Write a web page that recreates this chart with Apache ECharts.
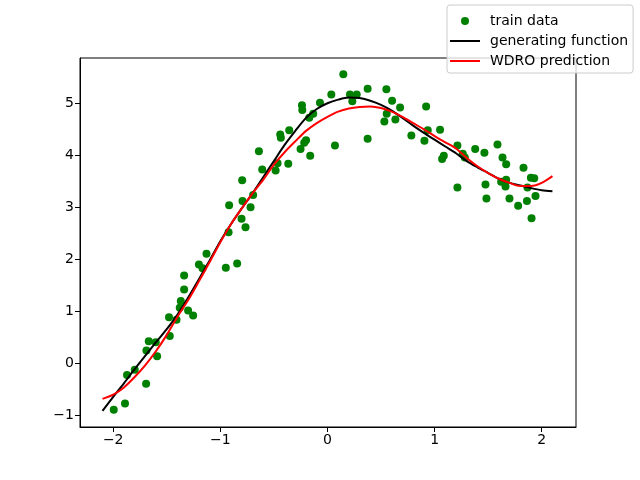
<!DOCTYPE html>
<html>
<head>
<meta charset="utf-8">
<script src="https://cdn.jsdelivr.net/npm/echarts@6/dist/echarts.min.js"></script>
<style>
  html, body { margin: 0; padding: 0; background: #fff; }
  #chart { width: 640px; height: 480px; }
</style>
</head>
<body>
<div id="chart"></div>
<script>
// train data points
const trainX = [-1.995, -1.89, -1.693, -1.871, -1.799, -1.69, -1.668, -1.603, -1.59, -1.472,
  -1.479, -1.409, -1.369, -1.379, -1.301, -1.254, -1.338, -1.338, -1.2, -1.166,
  -1.129, -0.949, -0.843, -0.923, -0.765, -0.802, -0.918, -0.793, -0.718, -0.694,
  -0.796, -0.609, -0.64, -0.484, -0.466, -0.366, -0.441, -0.435, -0.357, -0.251,
  -0.217, -0.2, -0.161, -0.238, -0.235, -0.17, -0.133, -0.07, 0.036, 0.21,
  0.273, 0.232, 0.375, 0.07, 0.375, 0.148, 0.55, 0.603, 0.678, 0.553,
  0.531, 0.634, 0.921, 0.783, 0.936, 0.905, 1.051, 1.213, 1.263, 1.282,
  1.086, 1.07, 1.379, 1.213, 1.465, 1.587, 1.634, 1.668, 1.83, 1.475,
  1.484, 1.621, 1.668, 1.662, 1.699, 1.78, 1.862, 1.867, 1.899, 1.93,
  1.942, 1.905];
const trainY = [-0.89, -0.77, -0.39, -0.22, -0.12, 0.25, 0.43, 0.41, 0.14, 0.53,
  0.89, 0.84, 1.2, 1.07, 1.02, 0.92, 1.42, 1.69, 1.9, 1.83,
  2.11, 1.84, 1.92, 2.52, 2.62, 2.78, 3.04, 3.12, 3.0, 3.24,
  3.52, 3.73, 4.08, 3.71, 3.85, 3.84, 4.4, 4.34, 4.48, 4.12,
  4.24, 4.29, 3.99, 4.96, 4.87, 4.72, 4.8, 5.01, 5.17, 5.17,
  5.17, 5.04, 5.28, 4.19, 4.32, 5.56, 5.27, 5.05, 4.92, 4.8,
  4.65, 4.69, 4.94, 4.38, 4.48, 4.28, 4.49, 4.19, 4.03, 3.96,
  3.99, 3.93, 4.12, 3.38, 4.05, 4.21, 3.96, 3.83, 3.76, 3.44,
  3.17, 3.49, 3.53, 3.4, 3.17, 3.03, 3.12, 3.38, 3.57, 3.56,
  3.22, 2.79];

// curves sampled along x
const curveX = [-2.1, -2.0, -1.9, -1.8, -1.7, -1.6, -1.5, -1.4, -1.3, -1.2, -1.1,
  -1.0, -0.9, -0.8, -0.7, -0.6, -0.5, -0.4, -0.3, -0.2, -0.1,
  0.0, 0.1, 0.2, 0.3, 0.4, 0.5, 0.6, 0.7, 0.8, 0.9,
  1.0, 1.1, 1.2, 1.3, 1.4, 1.5, 1.6, 1.7, 1.8, 1.9, 2.0, 2.1];
const generatingY = [-0.91, -0.64, -0.38, -0.11, 0.15, 0.41, 0.66, 0.94, 1.27, 1.62, 1.98,
  2.35, 2.68, 2.98, 3.27, 3.58, 3.89, 4.2, 4.47, 4.72, 4.89,
  5.0, 5.07, 5.11, 5.1, 5.05, 4.97, 4.86, 4.72, 4.57, 4.43,
  4.3, 4.17, 4.04, 3.89, 3.77, 3.66, 3.55, 3.47, 3.42, 3.37, 3.33, 3.31];
const wdroY = [-0.68, -0.6, -0.46, -0.26, -0.03, 0.24, 0.55, 0.9, 1.22, 1.58, 1.95,
  2.33, 2.68, 2.98, 3.27, 3.53, 3.82, 4.06, 4.27, 4.47, 4.62,
  4.74, 4.84, 4.9, 4.93, 4.94, 4.91, 4.84, 4.74, 4.62, 4.5,
  4.37, 4.25, 4.13, 3.95, 3.79, 3.66, 3.55, 3.47, 3.41, 3.41, 3.47, 3.6];

const xTicks = [-2, -1, 0, 1, 2];
const yTicks = [-1, 0, 1, 2, 3, 4, 5];

const font = 'DejaVu Sans';
const minus = (v) => String(v).replace('-', '\u2212');
// thin bar used as legend icon for the lines
const lineIcon = 'path://M0,0L30,0L30,2L0,2Z';

const chart = echarts.init(document.getElementById('chart'));
chart.setOption({
  animation: false,
  backgroundColor: '#fff',
  grid: {
    left: 80, right: 64, top: 58, bottom: 53,
    show: true, borderColor: '#000', borderWidth: 1
  },
  legend: {
    orient: 'vertical',
    left: 447, top: 5,
    padding: [9, 5, 5, 3],
    itemWidth: 30, itemHeight: 8, itemGap: 6,
    backgroundColor: 'rgba(255,255,255,0.8)',
    borderColor: '#cccccc', borderWidth: 1, borderRadius: 3,
    textStyle: { fontFamily: font, fontSize: 14, color: '#000', lineHeight: 14, padding: [0, 0, 0, 5] },
    data: [
      { name: 'train data' },
      { name: 'generating function', icon: lineIcon },
      { name: 'WDRO prediction', icon: lineIcon }
    ]
  },
  xAxis: {
    type: 'value', min: -2.31, max: 2.32,
    splitLine: { show: false },
    axisLine: { show: true, onZero: false, lineStyle: { color: '#000', width: 1 } },
    axisTick: { show: true, length: 5, customValues: xTicks, lineStyle: { color: '#000' } },
    axisLabel: { customValues: xTicks, color: '#000', fontFamily: font, fontSize: 14, margin: 6, formatter: minus }
  },
  yAxis: {
    type: 'value', min: -1.22, max: 5.87,
    splitLine: { show: false },
    axisLine: { show: true, onZero: false, lineStyle: { color: '#000', width: 1 } },
    axisTick: { show: true, length: 5, customValues: yTicks, lineStyle: { color: '#000' } },
    axisLabel: { customValues: yTicks, color: '#000', fontFamily: font, fontSize: 14, margin: 6, formatter: minus }
  },
  series: [
    {
      name: 'train data',
      type: 'scatter',
      symbol: 'circle',
      symbolSize: 8,
      itemStyle: { color: '#008000', opacity: 1 },
      data: trainX.map((x, i) => [x, trainY[i]])
    },
    {
      name: 'generating function',
      type: 'line',
      showSymbol: false,
      symbol: 'none',
      smooth: 0.3,
      lineStyle: { color: '#000', width: 2 },
      itemStyle: { color: '#000' },
      data: curveX.map((x, i) => [x, generatingY[i]])
    },
    {
      name: 'WDRO prediction',
      type: 'line',
      showSymbol: false,
      symbol: 'none',
      smooth: 0.3,
      lineStyle: { color: '#ff0000', width: 2 },
      itemStyle: { color: '#ff0000' },
      data: curveX.map((x, i) => [x, wdroY[i]])
    }
  ]
});
</script>
</body>
</html>
